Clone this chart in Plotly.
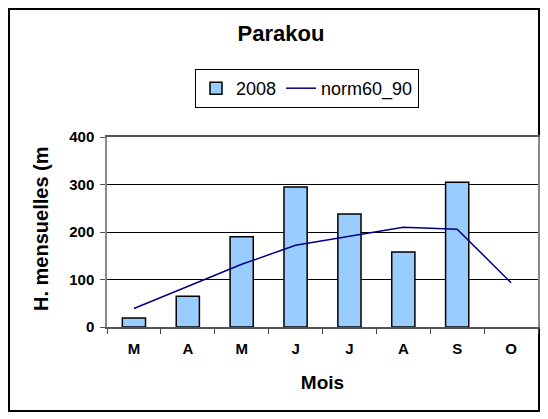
import plotly.graph_objects as go

months = ["M", "A", "M", "J", "J", "A", "S", "O"]
cat_ids = ["M1", "A1", "M2", "J1", "J2", "A2", "S", "O"]
rain_2008 = [19, 65, 190, 295, 238, 158, 305, None]
norm60_90 = [39, 86, 132, 172, 191, 210, 206, 93]

fig = go.Figure()
fig.add_trace(go.Bar(
    x=cat_ids, y=rain_2008, name="2008",
    marker=dict(color="#99CCFF", line=dict(color="black", width=1.5)),
    width=0.43,
))
fig.add_trace(go.Scatter(
    x=cat_ids, y=norm60_90, name="norm60_90", mode="lines",
    line=dict(color="#000080", width=1.5),
))

L, R, T, B = 107, 10, 137, 92
W, H = 548, 419
pw, ph = W - L - R, H - T - B

def px2x(px):
    return (px - L) / pw

def py2y(py):
    return (H - B - py) / ph

bold = dict(family="Liberation Sans, Arial, sans-serif", weight="bold")

fig.update_layout(
    width=W, height=H,
    margin=dict(l=L, r=R, t=T, b=B, autoexpand=False),
    paper_bgcolor="white", plot_bgcolor="white",
    font=dict(family="Liberation Sans, Arial, sans-serif", color="black"),
    showlegend=True,
    title=dict(text="<b>Parakou</b>", x=px2x(281), xref="paper", xanchor="center",
               y=1 - 33 / H, yanchor="middle", font=dict(size=22)),
    legend=dict(orientation="h", x=px2x(307), xanchor="center", y=py2y(69), yanchor="top",
                bordercolor="black", borderwidth=1, font=dict(size=18),
                bgcolor="white", traceorder="normal", tracegroupgap=0),
    shapes=[dict(type="rect", xref="paper", yref="paper",
                 x0=px2x(9), x1=px2x(539), y0=py2y(411), y1=py2y(9),
                 line=dict(color="black", width=2), layer="below")],
    annotations=[dict(text="<b>H. mensuelles (m</b>", textangle=-90,
                      xref="paper", yref="paper", x=px2x(41), y=py2y(229),
                      xanchor="center", yanchor="middle", showarrow=False,
                      font=dict(size=20))],
)
fig.update_xaxes(
    type="category", tickmode="array", tickvals=cat_ids, ticktext=months,
    tickson="boundaries", ticks="outside", ticklen=5, tickcolor="#444",
    ticklabelstandoff=7,
    range=[-0.5, 7.5],
    showline=True, linecolor="#555", linewidth=1.5, mirror=True,
    tickfont=dict(size=15, **bold),
    title=dict(text="<b>Mois</b>", font=dict(size=19), standoff=20),
    showgrid=False,
)
fig.update_yaxes(
    range=[0, 400], tickvals=[0, 100, 200, 300, 400],
    ticks="outside", ticklen=5, tickcolor="#555",
    ticklabelstandoff=3,
    showline=True, linecolor="#888", linewidth=1.5, mirror=True,
    showgrid=True, gridcolor="black", gridwidth=1,
    zeroline=False,
    tickfont=dict(size=15, **bold),
)

fig.write_html("out.html", config={"displayModeBar": False},
               post_script="document.body.style.margin='0';")
